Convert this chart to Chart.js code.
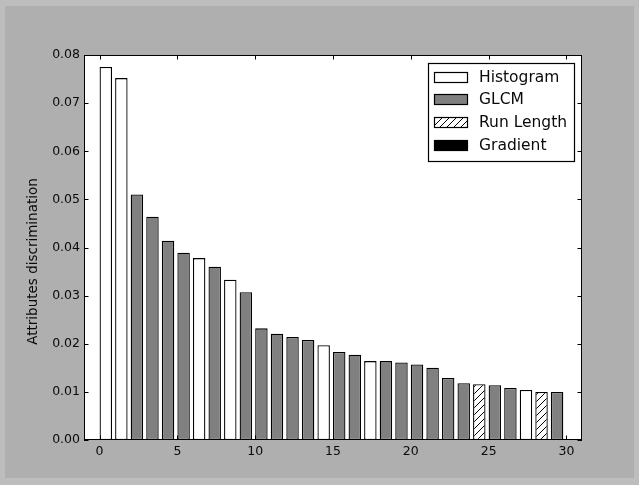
<!DOCTYPE html>
<html>
<head>
<meta charset="utf-8">
<script src="https://cdn.jsdelivr.net/npm/chart.js@4.4.1/dist/chart.umd.min.js"></script>
<style>
  html, body { margin: 0; padding: 0; background: #bdbdbd; }
  #wrap { width: 639px; height: 485px; position: relative; }
  canvas { display: block; }
</style>
</head>
<body>
<div id="wrap"><canvas id="c" width="639" height="485"></canvas></div>
<script>
// ---- data ----
const featureIndex = [0,1,2,3,4,5,6,7,8,9,10,11,12,13,14,15,16,17,18,19,20,21,22,23,24,25,26,27,28,29];
const discrimination = [
  0.0775, 0.0752, 0.0510, 0.0464, 0.0414, 0.0389, 0.0378, 0.0360, 0.0333, 0.0307,
  0.0232, 0.0221, 0.0214, 0.0208, 0.0197, 0.0183, 0.0177, 0.0164, 0.0164, 0.0161,
  0.0157, 0.0150, 0.0129, 0.0118, 0.0116, 0.0114, 0.0108, 0.0104, 0.0100, 0.0100
];
const featureGroup = [
  'Histogram','Histogram','GLCM','GLCM','GLCM','GLCM','Histogram','GLCM','Histogram','GLCM',
  'GLCM','GLCM','GLCM','GLCM','Histogram','GLCM','GLCM','Histogram','GLCM','GLCM',
  'GLCM','GLCM','GLCM','GLCM','Run Length','GLCM','GLCM','Histogram','Run Length','GLCM'
];
const groupNames = ['Histogram', 'GLCM', 'Run Length', 'Gradient'];
const xTicks = [0, 5, 10, 15, 20, 25, 30];
const yTicks = [0, 0.01, 0.02, 0.03, 0.04, 0.05, 0.06, 0.07, 0.08];
const yAxisTitle = 'Attributes discrimination';

// ---- styles ----
const FONT = '"DejaVu Sans", "Liberation Sans", sans-serif';
const BAR_WIDTH = 0.8; // matplotlib default, bars aligned on their left edge

function makeHatch() {
  const s = 7;
  const c = document.createElement('canvas');
  c.width = s; c.height = s;
  const g = c.getContext('2d');
  g.fillStyle = '#ffffff';
  g.fillRect(0, 0, s, s);
  g.strokeStyle = '#000000';
  g.lineWidth = 1;
  g.beginPath();
  g.moveTo(-1, s + 1); g.lineTo(s + 1, -1);
  g.moveTo(-1, 1); g.lineTo(1, -1);
  g.moveTo(s - 1, s + 1); g.lineTo(s + 1, s - 1);
  g.stroke();
  return g.createPattern(c, 'repeat');
}
const hatch = makeHatch();
const groupFill = {
  'Histogram': '#ffffff',
  'GLCM': '#808080',
  'Run Length': hatch,
  'Gradient': '#000000'
};

const datasets = groupNames.map(name => ({
  label: name,
  data: featureIndex
    .filter(i => featureGroup[i] === name)
    .map(i => ({ x: i + BAR_WIDTH / 2, y: discrimination[i] })),
  backgroundColor: groupFill[name],
  borderColor: '#000000'
}));

// ---- plugins ----
const framePlugin = {
  id: 'frame',
  beforeDraw(chart) {
    const ctx = chart.ctx, a = chart.chartArea;
    ctx.save();
    ctx.fillStyle = '#bdbdbd';
    ctx.fillRect(0, 0, chart.width, chart.height);
    ctx.fillStyle = '#afafaf';
    ctx.fillRect(5, 6, chart.width - 10, chart.height - 13);
    ctx.fillStyle = '#ffffff';
    ctx.fillRect(a.left, a.top, a.right - a.left, a.bottom - a.top);
    ctx.restore();
  },
  afterDraw(chart) {
    const ctx = chart.ctx, a = chart.chartArea;
    const xs = chart.scales.x, ys = chart.scales.y;
    const L = 4.5;
    ctx.save();
    ctx.strokeStyle = '#000000';
    ctx.lineWidth = 1;
    ctx.beginPath();
    xTicks.forEach(v => {
      const p = Math.round(xs.getPixelForValue(v)) + 0.5;
      ctx.moveTo(p, a.bottom); ctx.lineTo(p, a.bottom - L);
      ctx.moveTo(p, a.top); ctx.lineTo(p, a.top + L);
    });
    yTicks.forEach(v => {
      const p = Math.round(ys.getPixelForValue(v)) + 0.5;
      ctx.moveTo(a.left, p); ctx.lineTo(a.left + L, p);
      ctx.moveTo(a.right, p); ctx.lineTo(a.right - L, p);
    });
    ctx.stroke();
    ctx.strokeRect(Math.round(a.left) + 0.5, Math.round(a.top) + 0.5,
      Math.round(a.right - a.left) - 1, Math.round(a.bottom - a.top) - 1);

    // y-axis title (rotated), centred a little below the plot centre as in the reference
    ctx.save();
    ctx.font = '13.5px ' + FONT;
    ctx.fillStyle = '#0a0a0a';
    ctx.textAlign = 'center';
    ctx.textBaseline = 'middle';
    ctx.translate(33, (a.top + a.bottom) / 2 + 14);
    ctx.rotate(-Math.PI / 2);
    ctx.fillText(yAxisTitle, 0, 0);
    ctx.restore();

    // legend box
    const fontPx = 15.5;
    ctx.font = fontPx + 'px ' + FONT;
    const items = chart.data.datasets;
    const textW = Math.max(...items.map(d => ctx.measureText(d.label).width));
    const padL = 5.5, swW = 33, swH = 10, gap = 12, padR = 8;
    const boxW = padL + swW + gap + textW + padR;
    const right = a.right - 7.5;
    const left = Math.round(right - boxW) + 0.5;
    const top = Math.round(a.top + 8) + 0.5;
    const rowH = 22.7, firstRow = 13, boxH = 98;
    ctx.lineWidth = 1.2;
    ctx.fillStyle = '#ffffff';
    ctx.fillRect(left, top, right - left, boxH);
    ctx.strokeRect(left, top, right - left, boxH);
    ctx.textBaseline = 'middle';
    ctx.textAlign = 'left';
    items.forEach((d, k) => {
      const cy = top + firstRow + k * rowH;
      const sx = Math.round(left + padL) + 0.5;
      const sy = Math.round(cy - swH / 2) + 0.5;
      ctx.fillStyle = d.backgroundColor;
      ctx.fillRect(sx, sy, swW, swH);
      ctx.strokeStyle = '#000000';
      ctx.strokeRect(sx, sy, swW, swH);
      ctx.fillStyle = '#0a0a0a';
      ctx.fillText(d.label, left + padL + swW + gap, cy + 1);
    });
    ctx.restore();
  }
};

new Chart(document.getElementById('c'), {
  type: 'bar',
  data: { datasets },
  options: {
    responsive: false,
    animation: false,
    devicePixelRatio: 1,
    events: [],
    layout: { padding: { left: 0, top: 55, right: 57, bottom: 0 } },
    datasets: {
      bar: {
        grouped: false,
        barPercentage: BAR_WIDTH,
        categoryPercentage: 1.0,
        borderWidth: 1.3,
        borderSkipped: false
      }
    },
    plugins: {
      legend: { display: false },
      tooltip: { enabled: false },
      title: { display: false }
    },
    scales: {
      x: {
        type: 'linear',
        offset: false,
        min: -1,
        max: 31,
        grid: { display: false, drawTicks: false, offset: false },
        border: { display: false },
        afterBuildTicks: s => { s.ticks = xTicks.map(v => ({ value: v })); },
        afterFit: s => { s.height = 45; },
        ticks: {
          font: { family: FONT, size: 12.5 },
          color: '#0a0a0a',
          padding: 4,
          maxRotation: 0,
          autoSkip: false,
          callback: v => String(v)
        }
      },
      y: {
        type: 'linear',
        min: 0,
        max: 0.08,
        grid: { display: false, drawTicks: false },
        border: { display: false },
        afterBuildTicks: s => { s.ticks = yTicks.map(v => ({ value: v })); },
        afterFit: s => { s.width = 84; },
        ticks: {
          font: { family: FONT, size: 12.5 },
          color: '#0a0a0a',
          padding: 4,
          autoSkip: false,
          callback: v => Number(v).toFixed(2)
        },
        title: { display: false }
      }
    }
  },
  plugins: [framePlugin]
});
</script>
</body>
</html>
